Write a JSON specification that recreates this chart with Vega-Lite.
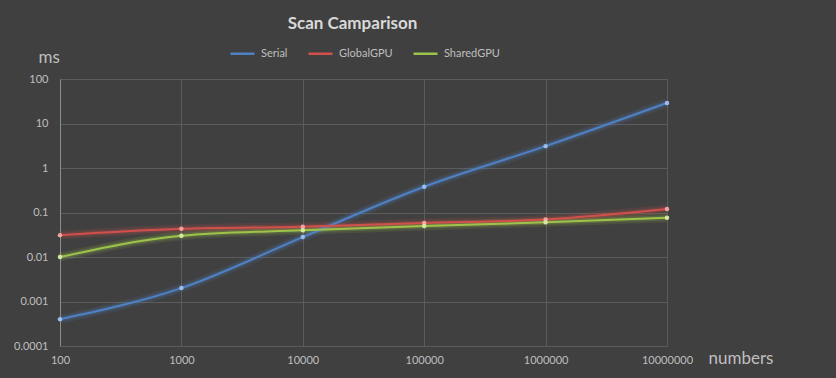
{
  "$schema": "https://vega.github.io/schema/vega-lite/v6.json",
  "width": 607,
  "height": 267,
  "autosize": {"type": "none"},
  "padding": {"left": 60, "top": 79, "right": 169, "bottom": 32},
  "background": "#404040",
  "title": {"text": "Scan Camparison", "font": "Lato", "fontSize": 17, "fontWeight": "bold", "color": "#d9d9d9", "anchor": "middle", "dx": -11, "offset": 7},
  "config": {"view": {"stroke": null}},
  "data": {"values": [
    {"n": 100, "series": "Serial", "ms": 0.0004},
    {"n": 1000, "series": "Serial", "ms": 0.002},
    {"n": 10000, "series": "Serial", "ms": 0.028},
    {"n": 100000, "series": "Serial", "ms": 0.38},
    {"n": 1000000, "series": "Serial", "ms": 3.1},
    {"n": 10000000, "series": "Serial", "ms": 29},
    {"n": 100, "series": "GlobalGPU", "ms": 0.031},
    {"n": 1000, "series": "GlobalGPU", "ms": 0.043},
    {"n": 10000, "series": "GlobalGPU", "ms": 0.048},
    {"n": 100000, "series": "GlobalGPU", "ms": 0.058},
    {"n": 1000000, "series": "GlobalGPU", "ms": 0.07},
    {"n": 10000000, "series": "GlobalGPU", "ms": 0.12},
    {"n": 100, "series": "SharedGPU", "ms": 0.01},
    {"n": 1000, "series": "SharedGPU", "ms": 0.03},
    {"n": 10000, "series": "SharedGPU", "ms": 0.04},
    {"n": 100000, "series": "SharedGPU", "ms": 0.05},
    {"n": 1000000, "series": "SharedGPU", "ms": 0.06},
    {"n": 10000000, "series": "SharedGPU", "ms": 0.076}
  ]},
  "encoding": {
    "x": {"field": "n", "type": "quantitative",
      "scale": {"type": "log", "domain": [100, 10000000], "nice": false},
      "axis": {"values": [100, 1000, 10000, 100000, 1000000, 10000000], "format": "d", "labelFlush": false, "labelOverlap": false,
        "domain": false, "ticks": false, "gridColor": "#5c5c5c", "gridWidth": 1,
        "labelColor": "#bfbfbf", "labelFont": "Lato", "labelFontSize": 11, "labelPadding": 8,
        "title": "numbers", "titleFont": "Lato", "titleFontSize": 17, "titleFontWeight": "normal", "titleColor": "#bfbfbf",
        "titleX": 648, "titleY": 12, "titleAlign": "left", "titleBaseline": "middle"}},
    "y": {"field": "ms", "type": "quantitative",
      "scale": {"type": "log", "domain": [0.0001, 100], "nice": false},
      "axis": {"values": [0.0001, 0.001, 0.01, 0.1, 1, 10, 100], "format": "~g", "labelFlush": false, "labelOverlap": false,
        "domain": true, "domainColor": "#8c8c8c", "ticks": false, "gridColor": "#5c5c5c", "gridWidth": 1,
        "labelColor": "#bfbfbf", "labelFont": "Lato", "labelFontSize": 11, "labelPadding": 12,
        "title": "ms", "titleFont": "Lato", "titleFontSize": 17, "titleFontWeight": "normal", "titleColor": "#bfbfbf",
        "titleAngle": 0, "titleX": -22, "titleY": -22, "titleAlign": "left", "titleBaseline": "middle"}},
    "color": {"field": "series", "type": "nominal",
      "scale": {"domain": ["Serial", "GlobalGPU", "SharedGPU"], "range": ["#4f81c4", "#d2504c", "#9dc34a"]},
      "legend": {"orient": "none", "legendX": 169, "legendY": -39, "direction": "horizontal", "title": null,
        "symbolType": "stroke", "symbolSize": 576, "symbolStrokeWidth": 2.5, "symbolOpacity": 1,
        "labelColor": "#bfbfbf", "labelFont": "Lato", "labelFontSize": 11, "labelOffset": 5, "columnPadding": 15}}
  },
  "layer": [
    {"mark": {"type": "line", "interpolate": "monotone", "strokeWidth": 9, "opacity": 0.12}},
    {"mark": {"type": "line", "interpolate": "monotone", "strokeWidth": 5, "opacity": 0.2}},
    {"mark": {"type": "line", "interpolate": "monotone", "strokeWidth": 2}},
    {"mark": {"type": "point", "shape": "circle", "filled": true, "size": 20, "opacity": 1},
      "encoding": {"color": null, "fill": {"field": "series", "type": "nominal",
        "scale": {"domain": ["Serial", "GlobalGPU", "SharedGPU"], "range": ["#9cbde8", "#f0a4a2", "#d3e8a4"]}, "legend": null}}}
  ]
}
